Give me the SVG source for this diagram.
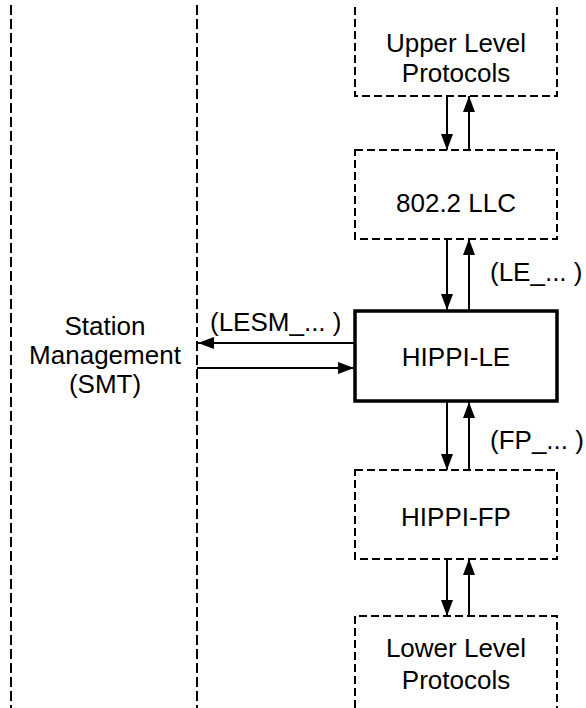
<svg xmlns="http://www.w3.org/2000/svg" width="586" height="708" viewBox="0 0 586 708">
<style>
.bg{fill:#fff}
.vline{stroke:#000;stroke-width:2;stroke-dasharray:10,4;fill:none}
.dbox{stroke:#000;stroke-width:2;stroke-dasharray:8,4;fill:none}
.sbox{stroke:#000;stroke-width:3.5;fill:#fff}
.conn{stroke:#000;stroke-width:2;fill:none}
text{font-family:"Liberation Sans",Arial,sans-serif;font-size:26px;fill:#000}
.c{text-anchor:middle}
</style>
<defs>
<marker id="ah" viewBox="0 0 16 12" refX="16" refY="6" markerWidth="16" markerHeight="12" markerUnits="userSpaceOnUse" orient="auto">
<path d="M0,0 L16,6 L0,12 Z" fill="#000"/>
</marker>
</defs>
<rect class="bg" x="0" y="0" width="586" height="708"/>
<g id="smt">
<line class="vline" x1="11" y1="5" x2="11" y2="708"/>
<line class="vline" x1="197" y1="5" x2="197" y2="708"/>
<text class="c" x="105" y="335">Station</text>
<text class="c" x="105" y="364">Management</text>
<text class="c" x="105" y="393">(SMT)</text>
</g>
<g id="upper">
<path class="dbox" d="M355,7 L355,96 L557,96 L557,7"/>
<text class="c" x="456" y="52">Upper Level</text>
<text class="c" x="456" y="82">Protocols</text>
</g>
<g id="llc">
<rect class="dbox" x="355" y="150" width="202" height="89"/>
<text class="c" x="456" y="212">802.2 LLC</text>
</g>
<g id="le">
<rect class="sbox" x="355" y="311" width="202" height="90"/>
<text class="c" x="456" y="366">HIPPI-LE</text>
</g>
<g id="fp">
<rect class="dbox" x="355" y="470" width="202" height="89"/>
<text class="c" x="456" y="526">HIPPI-FP</text>
</g>
<g id="lower">
<path class="dbox" d="M355,708 L355,616 L557,616 L557,708"/>
<text class="c" x="456" y="657">Lower Level</text>
<text class="c" x="456" y="689">Protocols</text>
</g>
<g id="connectors">
<line class="conn" x1="447" y1="96" x2="447" y2="150" marker-end="url(#ah)"/>
<line class="conn" x1="469" y1="150" x2="469" y2="96" marker-end="url(#ah)"/>
<line class="conn" x1="447" y1="239" x2="447" y2="310" marker-end="url(#ah)"/>
<line class="conn" x1="469" y1="310" x2="469" y2="239" marker-end="url(#ah)"/>
<line class="conn" x1="447" y1="402" x2="447" y2="470" marker-end="url(#ah)"/>
<line class="conn" x1="469" y1="470" x2="469" y2="402" marker-end="url(#ah)"/>
<line class="conn" x1="447" y1="559" x2="447" y2="616" marker-end="url(#ah)"/>
<line class="conn" x1="469" y1="616" x2="469" y2="559" marker-end="url(#ah)"/>
<line class="conn" x1="354" y1="343" x2="198" y2="343" marker-end="url(#ah)"/>
<line class="conn" x1="197" y1="368" x2="354" y2="368" marker-end="url(#ah)"/>
<text x="490" y="281">(LE_... )</text>
<text x="210" y="331">(LESM_... )</text>
<text x="490" y="449">(FP_... )</text>
</g>
</svg>
